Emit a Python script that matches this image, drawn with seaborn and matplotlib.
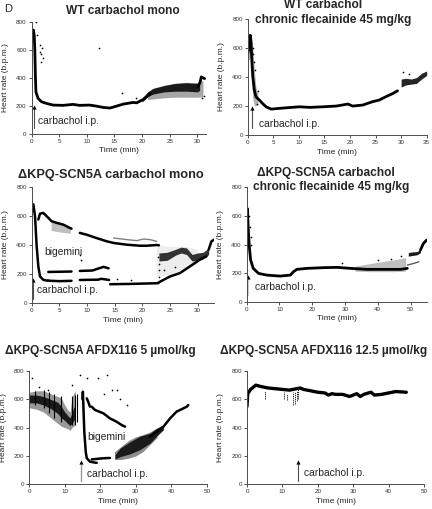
import matplotlib
matplotlib.use("Agg")
import matplotlib.pyplot as plt
import seaborn as sns

# ---- panel 1: WT carbachol mono ----
p1_t = [0.0, 0.2, 0.35, 0.5, 0.6, 0.7, 0.8, 1.2, 1.8, 2.7, 3.9, 5.7, 7.5, 8.7, 10.5, 11.7, 13.0, 14.2, 15.4, 16.6, 18.4, 19.0, 20.2, 21.4]
p1_hr = [680, 730, 740, 700, 600, 420, 300, 253, 230, 218, 206, 204, 211, 204, 206, 199, 189, 185, 199, 213, 225, 222, 246, 289]
p1_band_t = [20.0, 21.0, 22.0, 24.0, 26.0, 28.0, 30.0, 30.4]
p1_band_lo = [228, 265, 285, 300, 305, 305, 300, 310]
p1_band_hi = [248, 300, 325, 345, 360, 365, 360, 370]
p1_sparse_t = [21.0, 22.0, 24.0, 26.0, 28.0, 30.0, 31.0]
p1_sparse_lo = [245, 250, 258, 262, 262, 262, 265]
p1_sparse_hi = [300, 325, 348, 362, 368, 365, 380]
p1_end_t = [30.1, 30.5, 30.7, 31.0, 31.3]
p1_end_hr = [336, 370, 407, 400, 395]
p1_out_t = [0.9, 1.0, 1.5, 1.6, 1.7, 1.8, 1.9, 2.0, 12.2, 16.3, 18.9, 31.2, 30.8]
p1_out_hr = [798, 703, 585, 632, 514, 573, 610, 540, 615, 289, 260, 270, 260]

# ---- panel 2: WT carbachol chronic flecainide ----
p2_t = [0.0, 0.2, 0.4, 0.5, 0.65, 0.8, 1.0, 1.3, 1.6, 2.3, 2.9, 3.6, 4.6, 5.5, 7.5, 10.1, 12.1, 14.7, 17.3, 19.6, 20.5, 22.5, 24.4, 25.7, 27.0, 28.4, 29.3]
p2_hr = [560, 590, 620, 686, 640, 520, 400, 309, 263, 240, 217, 194, 178, 181, 187, 194, 190, 194, 199, 213, 199, 206, 229, 240, 263, 286, 304]
p2_sparse_t = [0.0, 0.3, 0.6, 0.8, 1.0, 1.3, 1.6, 2.0]
p2_sparse_lo = [510, 520, 540, 350, 250, 200, 200, 210]
p2_sparse_hi = [620, 640, 680, 650, 600, 450, 330, 290]
p2_band_t = [30.0, 31.0, 32.0, 33.0, 34.0, 35.0]
p2_band_lo = [330, 345, 350, 355, 385, 410]
p2_band_hi = [385, 390, 385, 395, 425, 440]
p2_out_t = [1.0, 1.2, 1.4, 1.8, 2.0, 1.1, 30.4, 31.5]
p2_out_hr = [600, 500, 450, 210, 300, 560, 434, 420]

# ---- panel 3: dKPQ carbachol mono ----
p3_drop_t = [0.0, 0.3, 0.6, 0.9, 1.2, 1.5, 2.1, 2.7, 3.0]
p3_drop_hr = [620, 680, 598, 390, 253, 184, 161, 156, 156]
p3_lowA_t = [3.0, 5.0, 7.2]
p3_lowA_hr = [155, 152, 154]
p3_lowB_t = [8.7, 12.0, 12.6, 14.0]
p3_lowB_hr = [160, 162, 168, 160]
p3_lowC_t = [14.2, 17.8, 22.9]
p3_lowC_hr = [131, 133, 138]
p3_lowD_t = [22.9, 25.0, 26.8, 28.6, 30.4, 31.6]
p3_lowD_hr = [142, 184, 207, 253, 299, 322]
p3_midA_t = [3.0, 7.2]
p3_midA_hr = [215, 218]
p3_midB_t = [8.7, 11.0, 12.0, 13.0, 13.9]
p3_midB_hr = [222, 225, 238, 250, 240]
p3_upA_t = [1.2, 1.5, 2.1, 2.7, 3.6, 4.5, 5.7, 6.9, 7.2]
p3_upA_hr = [575, 615, 620, 598, 563, 552, 540, 517, 512]
p3_upB_t = [8.7, 9.9, 11.7, 13.6, 14.8, 17.2, 19.6, 20.8, 22.6, 23.0]
p3_upB_hr = [483, 471, 448, 425, 414, 402, 395, 395, 400, 398]
p3_faint_t = [14.8, 17.2, 19.0, 20.2, 21.4, 22.6]
p3_faint_hr = [448, 437, 430, 441, 437, 425]
p3_band_t = [23.0, 24.5, 26.0, 27.0, 28.0, 29.0, 30.0, 31.0, 32.0]
p3_band_lo = [290, 295, 330, 345, 335, 290, 295, 305, 335]
p3_band_hi = [345, 350, 370, 385, 380, 335, 345, 350, 380]
p3_sparse_t = [22.5, 25.0, 28.0, 30.0]
p3_sparse_lo = [180, 200, 240, 270]
p3_sparse_hi = [400, 390, 390, 370]
p3_upsp_t = [3.5, 5.0, 7.0]
p3_upsp_lo = [500, 490, 480]
p3_upsp_hi = [560, 550, 520]
p3_end_t = [32.0, 32.5, 33.0]
p3_end_hr = [368, 425, 437]
p3_out_t = [23.0, 23.0, 23.0, 22.9, 26.0, 24.0, 9.0, 8.8, 15.5, 18.0]
p3_out_hr = [180, 230, 270, 320, 250, 230, 300, 330, 170, 160]

# ---- panel 4: dKPQ carbachol chronic flecainide ----
p4_t = [0.0, 0.2, 0.5, 0.8, 1.2, 2.0, 3.6, 6.1, 10.2, 13.3, 14.3, 15.3, 18.4, 23.5, 27.6, 31.6, 36.7, 41.8, 46.9, 49.0]
p4_hr = [620, 653, 502, 386, 293, 235, 200, 188, 181, 188, 212, 228, 235, 240, 242, 235, 228, 228, 228, 235]
p4_sparse_t = [33.0, 38.0, 42.0, 45.0, 48.5]
p4_sparse_lo = [215, 212, 212, 212, 215]
p4_sparse_hi = [250, 270, 285, 295, 310]
p4_band_t = [49.3, 50.5, 52.0, 53.0]
p4_band_lo = [320, 325, 330, 345]
p4_band_hi = [345, 350, 352, 370]
p4_end_t = [53.0, 53.9, 54.9]
p4_end_hr = [363, 409, 433]
p4_dash_t = [49.0, 51.0, 52.5]
p4_dash_hr = [258, 270, 281]
p4_out_t = [1.0, 1.2, 1.4, 0.6, 29.0, 40.0, 44.0, 47.0]
p4_out_hr = [525, 456, 400, 600, 275, 290, 300, 320]

# ---- panel 5: dKPQ AFDX116 5 umol/kg ----
p5_a_t = [0.0, 2.0, 4.0, 6.0, 8.0, 9.0, 10.0, 11.0, 11.5, 12.0, 12.5, 13.0]
p5_a_lo = [575, 575, 560, 535, 500, 470, 450, 425, 415, 430, 450, 470]
p5_a_hi = [630, 630, 620, 600, 580, 550, 510, 480, 470, 500, 540, 560]
p5_asp_lo = [540, 530, 510, 470, 430, 410, 400, 390, 380, 400, 410, 420]
p5_asp_hi = [650, 660, 660, 640, 620, 610, 560, 520, 510, 610, 640, 660]
p5_spike_t = [1.5, 4.2, 5.5, 7.0, 8.8, 12.0, 12.9, 13.4]
p5_spike_lo = [560, 540, 500, 470, 440, 420, 420, 440]
p5_spike_hi = [660, 665, 650, 640, 620, 620, 630, 640]
p5_drop_t = [15.0, 15.1, 15.5, 15.9, 16.2, 17.1, 18.5, 19.0]
p5_drop_hr = [600, 654, 372, 231, 184, 160, 153, 152]
p5_mid_t = [17.6, 20.9, 22.7]
p5_mid_hr = [176, 184, 186]
p5_up1_t = [16.2, 16.6, 17.1]
p5_up1_hr = [607, 583, 548]
p5_up2_t = [17.6, 18.5, 20.9, 22.7, 24.6, 26.0, 27.0]
p5_up2_hr = [548, 525, 501, 466, 442, 419, 407]
p5_band_t = [24.2, 25.6, 28.4, 31.2, 34.0, 35.9, 37.8]
p5_band_lo = [180, 195, 215, 245, 290, 340, 385]
p5_band_hi = [210, 255, 300, 340, 360, 395, 420]
p5_sparse_t = [24.0, 26.0, 28.0, 30.0, 32.0, 34.0, 36.0]
p5_sparse_lo = [175, 175, 185, 200, 230, 280, 330]
p5_sparse_hi = [230, 270, 310, 335, 350, 370, 400]
p5_rise_t = [34.0, 35.9, 37.8, 39.7, 41.5, 43.4, 44.4, 44.8]
p5_rise_hr = [336, 372, 407, 466, 513, 536, 548, 560]
p5_out_t = [0.7, 5.4, 14.3, 16.2, 19.5, 22.0, 23.2, 24.6, 21.0, 25.5, 27.5, 12.0, 2.8]
p5_out_hr = [748, 666, 772, 748, 748, 772, 666, 666, 640, 600, 560, 700, 690]

# ---- panel 6: dKPQ AFDX116 12.5 umol/kg ----
p6_t = [0, 0.2, 0.5, 1, 2, 2.5, 4, 6, 8, 10, 12, 14, 15, 16, 18, 20, 22, 23, 24, 25, 27, 29, 31, 32, 33, 35, 36, 38, 40, 42, 45]
p6_hr = [550, 640, 650, 670, 690, 700, 690, 680, 675, 670, 665, 675, 680, 670, 660, 650, 645, 630, 640, 635, 635, 620, 640, 620, 635, 650, 630, 635, 645, 655, 650]
p6_drop_t = [5.0, 10.5, 11.2, 13.0, 13.5, 14.0, 14.5]
p6_drop_lo = [600, 600, 595, 560, 570, 590, 600]
p6_drop_hi = [660, 650, 640, 650, 650, 660, 680]

W, H = 432, 509
sns.set_style("ticks")
plt.rcParams['font.family'] = ['Liberation Sans', 'DejaVu Sans']

fig = plt.figure(figsize=(W / 100, H / 100), dpi=100)


def px_axes(l, r, t, b, xmax, xticks):
    ax = fig.add_axes([l / W, 1 - b / H, (r - l) / W, (b - t) / H])
    ax.set_xlim(0, xmax)
    ax.set_ylim(0, 800)
    ax.set_xticks(xticks)
    ax.set_yticks([0, 200, 400, 600, 800])
    ax.tick_params(labelsize=4.5, length=2, width=0.6, pad=1.5, colors='0.2')
    for s in ['top', 'right']:
        ax.spines[s].set_visible(False)
    for s in ['left', 'bottom']:
        ax.spines[s].set_linewidth(0.7)
        ax.spines[s].set_color('0.3')
    fig.text((l - 26) / W, 1 - (t + b) / 2 / H, 'Heart rate (b.p.m.)', rotation=90,
             ha='center', va='center', fontsize=6)
    fig.text((l + r) / 2 / W, 1 - (b + 17) / H, 'Time (min)', ha='center', va='center', fontsize=6)
    return ax


def line(ax, t, hr, lw=2.0, color='k'):
    sns.lineplot(x=t, y=hr, ax=ax, color=color, lw=lw, sort=False, estimator=None)


def band(ax, t, lo, hi, color='0.1'):
    ax.fill_between(t, lo, hi, color=color, lw=0)


def dots(ax, t, hr):
    sns.scatterplot(x=t, y=hr, ax=ax, color='k', s=1.5, linewidth=0)


def arrow(ax, t, y0, y1, shaft='0.3', lw=0.8):
    ax.plot([t, t], [y0, y1 - 15], color=shaft, lw=lw)
    ax.plot([t], [y1 - 10], marker='^', color='k', ms=3, mew=0)


tfont = dict(fontsize=8.6, fontweight='bold', ha='center', va='center')
afont = dict(fontsize=7.4, ha='left', va='center')

# panel 1
ax1 = px_axes(31.5, 205.7, 21.7, 134, 31.5, range(0, 31, 5))
band(ax1, p1_sparse_t, p1_sparse_lo, p1_sparse_hi, '0.65')
band(ax1, p1_band_t, p1_band_lo, p1_band_hi, '0.1')
line(ax1, p1_t, p1_hr)
line(ax1, p1_end_t, p1_end_hr)
dots(ax1, p1_out_t, p1_out_hr)
arrow(ax1, 0.45, 45, 200)
ax1.text(1.2, 95, 'carbachol i.p.', **afont)
fig.text(8 / W, 1 - 9 / H, 'D', fontsize=8, ha='center', va='center')
fig.text(123 / W, 1 - 11 / H, 'WT carbachol mono', **tfont)

# panel 2
ax2 = px_axes(247.7, 426.7, 18.7, 135, 35, range(0, 36, 5))
band(ax2, p2_sparse_t, p2_sparse_lo, p2_sparse_hi, '0.7')
band(ax2, p2_band_t, p2_band_lo, p2_band_hi, '0.15')
line(ax2, p2_t, p2_hr)
dots(ax2, p2_out_t, p2_out_hr)
arrow(ax2, 0.8, 46, 195)
ax2.text(2.15, 76, 'carbachol i.p.', **afont)
fig.text(323 / W, 1 - 5 / H, 'WT carbachol', **tfont)
fig.text(333 / W, 1 - 20 / H, 'chronic flecainide 45 mg/kg', **tfont)

# panel 3
ax3 = px_axes(31.7, 214.2, 186.7, 303.3, 33, range(0, 31, 5))
band(ax3, p3_sparse_t, p3_sparse_lo, p3_sparse_hi, '0.93')
band(ax3, p3_upsp_t, p3_upsp_lo, p3_upsp_hi, '0.75')
band(ax3, p3_band_t, p3_band_lo, p3_band_hi, '0.2')
for tt, hh in [(p3_drop_t, p3_drop_hr), (p3_lowA_t, p3_lowA_hr), (p3_lowB_t, p3_lowB_hr),
               (p3_lowC_t, p3_lowC_hr), (p3_lowD_t, p3_lowD_hr), (p3_midA_t, p3_midA_hr),
               (p3_midB_t, p3_midB_hr), (p3_upA_t, p3_upA_hr), (p3_upB_t, p3_upB_hr),
               (p3_end_t, p3_end_hr)]:
    line(ax3, tt, hh, lw=1.8)
line(ax3, p3_faint_t, p3_faint_hr, lw=1.0, color='0.5')
dots(ax3, p3_out_t, p3_out_hr)
arrow(ax3, 0.15, 30, 172)
ax3.text(1.0, 92, 'carbachol i.p.', **afont)
ax3.text(2.2, 349, 'bigemini', **afont)
fig.text(111 / W, 1 - 175 / H, '\u0394KPQ-SCN5A carbachol mono', **dict(tfont, fontsize=9.2))

# panel 4
ax4 = px_axes(246.7, 427, 187.5, 302, 55, range(0, 51, 10))
ax4.bar(0.4, 135, bottom=42, width=0.8, color='0.8', lw=0)
band(ax4, p4_sparse_t, p4_sparse_lo, p4_sparse_hi, '0.75')
band(ax4, p4_band_t, p4_band_lo, p4_band_hi, '0.1')
line(ax4, p4_t, p4_hr)
line(ax4, p4_end_t, p4_end_hr)
line(ax4, p4_dash_t, p4_dash_hr, lw=1.0, color='0.35')
dots(ax4, p4_out_t, p4_out_hr)
ax4.plot([0.5], [172], marker='^', color='k', ms=3, mew=0)
ax4.text(2.6, 102, 'carbachol i.p.', **afont)
fig.text(326 / W, 1 - 173 / H, '\u0394KPQ-SCN5A carbachol', **tfont)
fig.text(331 / W, 1 - 187 / H, 'chronic flecainide 45 mg/kg', **tfont)

# panel 5
ax5 = px_axes(29.3, 206.7, 371, 484.3, 50, range(0, 51, 10))
band(ax5, p5_a_t, p5_asp_lo, p5_asp_hi, '0.6')
band(ax5, p5_a_t, p5_a_lo, p5_a_hi, '0.1')
ax5.vlines(p5_spike_t, p5_spike_lo, p5_spike_hi, color='k', lw=0.8)
band(ax5, p5_sparse_t, p5_sparse_lo, p5_sparse_hi, '0.55')
band(ax5, p5_band_t, p5_band_lo, p5_band_hi, '0.1')
for tt, hh in [(p5_drop_t, p5_drop_hr), (p5_mid_t, p5_mid_hr), (p5_up1_t, p5_up1_hr),
               (p5_up2_t, p5_up2_hr), (p5_rise_t, p5_rise_hr)]:
    line(ax5, tt, hh, lw=1.8)
dots(ax5, p5_out_t, p5_out_hr)
arrow(ax5, 14.7, 25, 165, shaft='0.6', lw=1.0)
ax5.text(16.3, 70, 'carbachol i.p.', **afont)
ax5.text(16.3, 336, 'bigemini', **afont)
fig.text(100 / W, 1 - 351 / H, '\u0394KPQ-SCN5A AFDX116 5 \u00b5mol/kg', **tfont)

# panel 6
ax6 = px_axes(247, 424, 371, 484.3, 50, range(0, 51, 10))
line(ax6, p6_t, p6_hr, lw=2.4)
ax6.vlines(p6_drop_t, p6_drop_lo, p6_drop_hi, color='k', lw=0.6, linestyles=(0, (1.5, 1)))
arrow(ax6, 14.4, 25, 165, shaft='0.3', lw=0.8)
ax6.text(16.0, 78, 'carbachol i.p.', **afont)
fig.text(324 / W, 1 - 351 / H, '\u0394KPQ-SCN5A AFDX116 12.5 \u00b5mol/kg', **tfont)

fig.savefig('out.png', dpi=100)
